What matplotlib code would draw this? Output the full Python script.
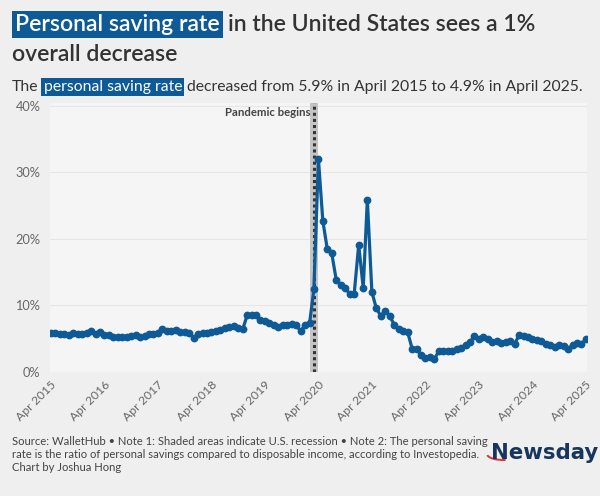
import numpy as np
import pandas as pd
import matplotlib
matplotlib.use("Agg")
import matplotlib.pyplot as plt
import matplotlib.dates as mdates
from matplotlib.patches import Arc

# Data: monthly personal saving rate (%), Apr 2015 - Apr 2025
months = pd.date_range("2015-04-01", "2025-04-01", freq="MS")
saving_rate = [
    5.9, 5.9, 5.75, 5.65, 5.6, 5.85, 5.75, 5.75, 5.9,              # Apr-Dec 2015
    6.1, 5.65, 6.0, 5.6, 5.5, 5.2, 5.2, 5.3, 5.3, 5.4, 5.5, 5.2,   # 2016
    5.4, 5.75, 5.75, 5.85, 6.4, 6.1, 6.1, 6.25, 6.0, 6.0, 5.9, 5.1, # 2017
    5.75, 5.9, 5.9, 6.0, 6.1, 6.35, 6.6, 6.75, 6.85, 6.6, 6.4, 8.5, # 2018
    8.5, 8.6, 7.85, 7.6, 7.4, 7.1, 6.75, 7.0, 7.1, 7.2, 7.0, 6.2,  # 2019
    7.0, 7.4, 12.4, 32.0, 22.7, 18.4, 17.8, 13.8, 13.1, 12.6, 11.7, 11.7,  # 2020
    19.1, 12.6, 25.9, 12.0, 9.6, 8.4, 9.2, 8.4, 7.1, 6.5, 6.1, 6.0,  # 2021
    3.5, 3.5, 2.6, 2.1, 2.2, 1.9, 3.1, 3.1, 3.1, 3.2, 3.4, 3.6,    # 2022
    4.1, 4.5, 5.4, 4.9, 5.2, 5.0, 4.5, 4.6, 4.3, 4.5, 4.6, 4.2,    # 2023
    5.5, 5.4, 5.2, 5.0, 4.8, 4.7, 4.2, 4.1, 3.7, 4.1, 3.9, 3.4,    # 2024
    4.1, 4.3, 4.2, 4.9,                                             # 2025
]
recession_start = pd.Timestamp("2020-02-01")
recession_end = pd.Timestamp("2020-04-01")
pandemic_start = pd.Timestamp("2020-03-01")
tick_dates = pd.date_range("2015-04-01", "2025-04-01", freq="12MS")
tick_labels = [d.strftime("Apr %Y") for d in tick_dates]
y_ticks = [0, 10, 20, 30, 40]

blue = "#0e5a97"
bg = "#efefef"
plt.rcParams['font.family'] = ['Lato', 'DejaVu Sans']

fig = plt.figure(figsize=(6, 4.96), dpi=100, facecolor=bg)
ax = fig.add_axes([50 / 600, 1 - 372 / 496, 537 / 600, 269 / 496])
ax.set_facecolor("#f5f5f5")

ax.axvspan(recession_start, recession_end, color="#c4c4c4", lw=0, zorder=1)
ax.axvline(pandemic_start + pd.Timedelta(days=2), color="#333333", ls=(0, (1, 1)), lw=2.2, zorder=2)
ax.text(pandemic_start - pd.Timedelta(days=22), 38.9, "Pandemic begins", ha="right", va="center",
        fontsize=8.2, fontweight="bold", color="#444444", zorder=3)

ax.plot(months, saving_rate, color=blue, lw=2.3, marker="o", ms=4.6, zorder=4)

ax.set_ylim(0, 40.4)
ax.set_xlim(months[0] - pd.Timedelta(days=6), months[-1] + pd.Timedelta(days=8))
ax.set_yticks(y_ticks)
ax.set_yticklabels([f"{v}%" for v in y_ticks])
ax.set_xticks(tick_dates)
ax.set_xticklabels(tick_labels, rotation=45, ha="right", rotation_mode="anchor")
ax.tick_params(axis="both", length=0, colors="#666666")
ax.tick_params(axis="x", pad=5, labelsize=8.8)
ax.tick_params(axis="y", pad=7, labelsize=9.2)
ax.grid(axis="y", color="#e6e6e6", lw=0.8)
ax.set_axisbelow(True)
for s in ax.spines.values():
    s.set_visible(False)

# Title and subtitle with highlighted runs
fig.canvas.draw()
renderer = fig.canvas.get_renderer()
W, H = fig.bbox.width, fig.bbox.height


def run(x_px, y_px, parts, size, weight, gap):
    for txt, hl in parts:
        kw = dict(fontsize=size, fontweight=weight, va="baseline", ha="left")
        if hl:
            t = fig.text(x_px / W, 1 - y_px / H, txt, color="white",
                         bbox=dict(boxstyle="square,pad=0.15", fc=blue, ec="none"), **kw)
        else:
            t = fig.text(x_px / W, 1 - y_px / H, txt, color="#333333", **kw)
        bb = t.get_window_extent(renderer)
        x_px = bb.x1 + gap


run(15, 31, [("Personal saving rate", True), ("in the United States sees a 1%", False)], 16.6, "semibold", 8)
fig.text(12 / W, 1 - 61 / H, "overall decrease", fontsize=16.6, fontweight="semibold",
         color="#333333", va="baseline")
run(12, 91, [("The", False), ("personal saving rate", True),
             ("decreased from 5.9% in April 2015 to 4.9% in April 2025.", False)], 11.3, "normal", 5)

footer = ("Source: WalletHub \u2022 Note 1: Shaded areas indicate U.S. recession \u2022 Note 2: The personal saving\n"
          "rate is the ratio of personal savings compared to disposable income, according to Investopedia.\n"
          "Chart by Joshua Hong")
fig.text(12 / W, 1 - 436 / H, footer, fontsize=8.1, color="#444444", va="top", linespacing=1.22)

fig.text(491 / W, 1 - 459 / H, "Newsday", fontsize=15.3, fontweight="bold", color="#17365f",
         family="DejaVu Sans", va="baseline")
fig.patches.append(Arc((503 / W, 1 - 454 / H), 32 / W, 12 / H, theta1=185, theta2=290,
                       color="#d9343a", lw=1.4, transform=fig.transFigure))

fig.savefig("out.png", dpi=100, facecolor=bg)
